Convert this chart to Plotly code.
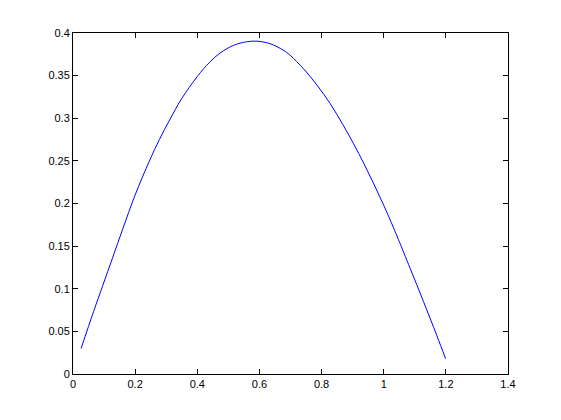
import plotly.graph_objects as go

# Curve points
x = [0.026, 0.066, 0.096, 0.128, 0.160, 0.200, 0.246, 0.278, 0.311, 0.348,
     0.400, 0.440, 0.473, 0.516, 0.559, 0.592, 0.634, 0.677, 0.699, 0.742,
     0.785, 0.828, 0.871, 0.903, 0.936, 0.968, 1.000, 1.031, 1.047, 1.085,
     1.128, 1.171, 1.199]
y = [0.030, 0.073, 0.104, 0.137, 0.170, 0.210, 0.250, 0.275, 0.298, 0.322,
     0.349, 0.3658, 0.3764, 0.3854, 0.3897, 0.3904, 0.3875, 0.3798, 0.3738, 0.358,
     0.339, 0.317, 0.291, 0.270, 0.247, 0.223, 0.198, 0.172, 0.158, 0.124,
     0.085, 0.045, 0.018]

fig = go.Figure()
fig.add_trace(go.Scatter(x=x, y=y, mode='lines', line=dict(color='#0000ff', width=1, shape='spline'),
                         showlegend=False))

axis_style = dict(showgrid=False, zeroline=False, showline=True, linecolor='black', linewidth=1,
                  mirror='ticks', ticks='inside', ticklen=5, tickcolor='black',
                  tickfont=dict(family='Liberation Sans, Arial, sans-serif', size=11, color='black'))

fig.update_xaxes(range=[0, 1.4], dtick=0.2, tick0=0, **axis_style)
fig.update_yaxes(range=[0, 0.4], dtick=0.05, tick0=0, **axis_style)

# page body adds ~8px offset, so margins are trimmed on the left/top
fig.update_layout(width=561, height=420, plot_bgcolor='white', paper_bgcolor='white',
                  margin=dict(l=65, r=61, t=25, b=54))

fig.write_html("out.html")
